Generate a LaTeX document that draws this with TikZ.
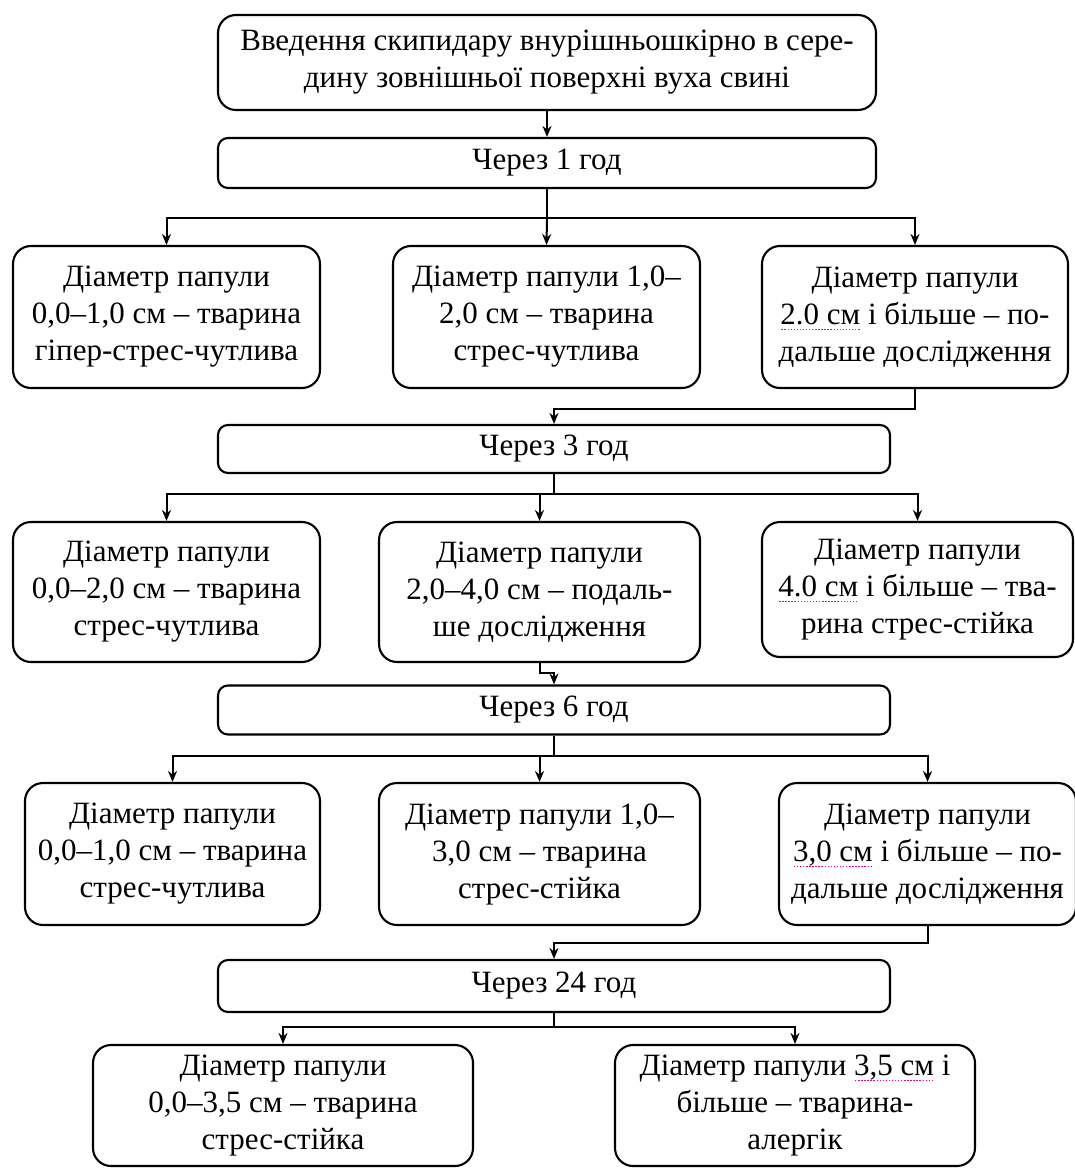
\documentclass[tikz,border=0pt]{standalone}
\usepackage{fontspec}
\setmainfont{Liberation Serif}
\usetikzlibrary{arrows.meta}
\newcommand\spl[1]{\leavevmode\setbox0\hbox{#1}\rlap{\hbox to\wd0{\color{magenta}\xleaders\hbox to 3pt{\hss\rule[-6pt]{1.4pt}{1.4pt}\hss}\hfill}}\box0\relax}
\begin{document}
\begin{tikzpicture}[x=1pt,y=-1pt,
  box/.style={draw, line width=2.1pt, rounded corners=18pt, align=center, inner sep=0pt,
    font=\fontsize{31}{37}\selectfont},
  tbox/.style={box, rounded corners=10pt},
  conn/.style={line width=2pt},
  arr/.style={conn, -{Stealth[length=11pt,width=9pt]}}]
\useasboundingbox (0,0) rectangle (1075,1169);

\node[box, minimum width=658pt, minimum height=95pt] (top) at (547,62.5)
  {Введення скипидару внурішньошкірно в сере-\\дину зовнішньої поверхні вуха свині};
\node[tbox, minimum width=658pt, minimum height=50pt] (t1) at (547,163) {Через 1 год};

\node[box, minimum width=307pt, minimum height=142pt] (A1) at (166.5,317)
  {Діаметр папули\\0,0–1,0 см – тварина\\гіпер-стрес-чутлива};
\node[box, minimum width=307pt, minimum height=142pt] (A2) at (546.5,317)
  {Діаметр папули 1,0–\\2,0 см – тварина\\стрес-чутлива};
\node[box, minimum width=306pt, minimum height=142pt] (A3) at (915,317)
  {Діаметр папули\\\spl{2.0 см} і більше – по-\\дальше дослідження};

\node[tbox, minimum width=672pt, minimum height=48pt] (t3) at (554,449) {Через 3 год};

\node[box, minimum width=307pt, minimum height=140pt] (B1) at (166.5,592)
  {Діаметр папули\\0,0–2,0 см – тварина\\стрес-чутлива};
\node[box, minimum width=321pt, minimum height=140pt] (B2) at (539.5,592)
  {Діаметр папули\\2,0–4,0 см – подаль-\\ше дослідження};
\node[box, minimum width=311pt, minimum height=135pt] (B3) at (917.5,589.5)
  {Діаметр папули\\\spl{4.0 см} і більше – тва-\\рина стрес-стійка};

\node[tbox, minimum width=672pt, minimum height=49pt] (t6) at (554,710) {Через 6 год};

\node[box, minimum width=295pt, minimum height=142pt] (C1) at (172.5,854)
  {Діаметр папули\\0,0–1,0 см – тварина\\стрес-чутлива};
\node[box, minimum width=321pt, minimum height=142pt] (C2) at (539.5,854)
  {Діаметр папули 1,0–\\3,0 см – тварина\\стрес-стійка};
\node[box, minimum width=297pt, minimum height=142pt] (C3) at (927.5,854)
  {Діаметр папули\\\spl{3,0 см} і більше – по-\\дальше дослідження};

\node[tbox, minimum width=672pt, minimum height=52pt] (t24) at (554,986) {Через 24 год};

\node[box, minimum width=380pt, minimum height=121pt] (D1) at (283,1105.5)
  {Діаметр папули\\0,0–3,5 см – тварина\\стрес-стійка};
\node[box, minimum width=360pt, minimum height=121pt] (D2) at (795,1105.5)
  {Діаметр папули \spl{3,5 см} і\\більше – тварина-\\алергік};

% connectors
\draw[arr] (top) -- (t1);
\coordinate (j1) at (547,218);
\draw[conn] (t1.south) -- (j1);
\draw[arr] (j1) -| (A1.north);
\draw[arr] (j1) -- (A2.north);
\draw[arr] (j1) -| (A3.north);

\draw[arr] (A3.south) -- ++(0,20) -| (t3.north);

\coordinate (j3) at (554,494);
\draw[conn] (t3.south) -- (j3);
\draw[arr] (j3) -| (B1.north);
\draw[arr] (j3) -| (B2.north);
\draw[arr] (j3) -| (B3.north);

\draw[arr] (B2.south) -- ++(0,10) -| (t6.north);

\coordinate (j6) at (554,756);
\draw[conn] (t6.south) -- (j6);
\draw[arr] (j6) -| (C1.north);
\draw[arr] (j6) -| (C2.north);
\draw[arr] (j6) -| (C3.north);

\draw[arr] (C3.south) -- ++(0,17) -| (t24.north);

\coordinate (j24) at (554,1027);
\draw[conn] (t24.south) -- (j24);
\draw[arr] (j24) -| (D1.north);
\draw[arr] (j24) -| (D2.north);
\end{tikzpicture}
\end{document}
